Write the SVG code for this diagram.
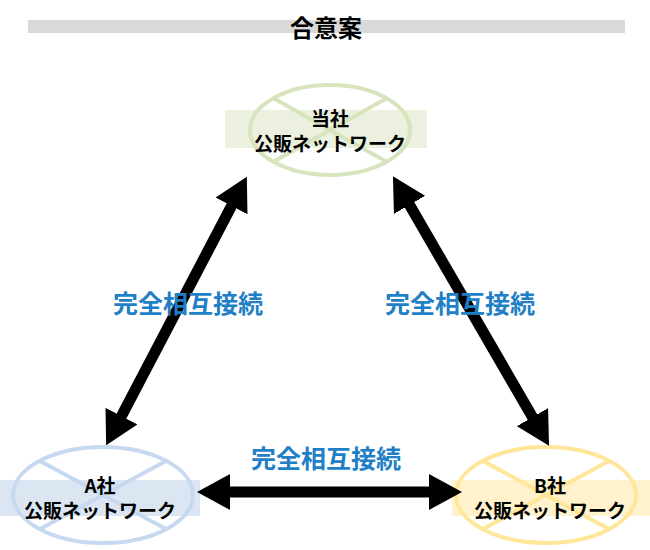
<svg xmlns="http://www.w3.org/2000/svg" width="650" height="550" viewBox="0 0 650 550">
<style>
.t{font-family:"Noto Sans CJK JP","Liberation Sans",sans-serif;font-weight:bold;text-anchor:middle}
.n{font-size:19px;fill:#000}
.l{font-size:25px;fill:#1f7fc7}
.c{stroke-width:11;stroke:#000;fill:none}
</style>
<defs>
<marker id="ah" markerUnits="userSpaceOnUse" markerWidth="34" markerHeight="36" refX="1" refY="18" orient="auto-start-reverse" viewBox="0 0 34 36">
<path d="M0,0 L33,18 L0,36 Z" fill="#000"/>
</marker>
</defs>
<rect x="28" y="20" width="597" height="13" fill="#d9d9d9"/>
<text class="t" x="326" y="37" font-size="24">合意案</text>
<g id="top">
<rect x="225" y="110" width="202" height="38" fill="#ebf1de"/>
<ellipse cx="330" cy="130" rx="80" ry="45" fill="none" stroke="#d7e4bd" stroke-width="4"/>
<path d="M273,98 L387,162 M387,98 L273,162" stroke="#d7e4bd" stroke-width="4"/>
<text class="t n" x="330" y="126">当社</text>
<text class="t n" x="330" y="151">公販ネットワーク</text>
</g>
<g id="a">
<rect x="0" y="480" width="200" height="36" fill="#dce6f2"/>
<ellipse cx="103" cy="495" rx="90" ry="48" fill="none" stroke="#c6d9f1" stroke-width="4"/>
<path d="M40,461 L166,529 M166,461 L40,529" stroke="#c6d9f1" stroke-width="4"/>
<text class="t n" x="100" y="493">A社</text>
<text class="t n" x="100" y="518">公販ネットワーク</text>
</g>
<g id="b">
<rect x="452" y="480" width="198" height="36" fill="#fff2cc"/>
<ellipse cx="546" cy="495" rx="90" ry="48" fill="none" stroke="#ffe699" stroke-width="4"/>
<path d="M483,461 L609,529 M609,461 L483,529" stroke="#ffe699" stroke-width="4"/>
<text class="t n" x="550" y="493">B社</text>
<text class="t n" x="550" y="518">公販ネットワーク</text>
</g>
<g id="connectors">
<line class="c" x1="232" y1="205" x2="121" y2="417" marker-start="url(#ah)" marker-end="url(#ah)"/>
<line class="c" x1="409" y1="204" x2="533" y2="418" marker-start="url(#ah)" marker-end="url(#ah)"/>
<line class="c" x1="229" y1="492" x2="430" y2="492" marker-start="url(#ah)" marker-end="url(#ah)"/>
</g>
<text class="t l" x="188" y="313">完全相互接続</text>
<text class="t l" x="460" y="313">完全相互接続</text>
<text class="t l" x="326" y="468">完全相互接続</text>
</svg>
